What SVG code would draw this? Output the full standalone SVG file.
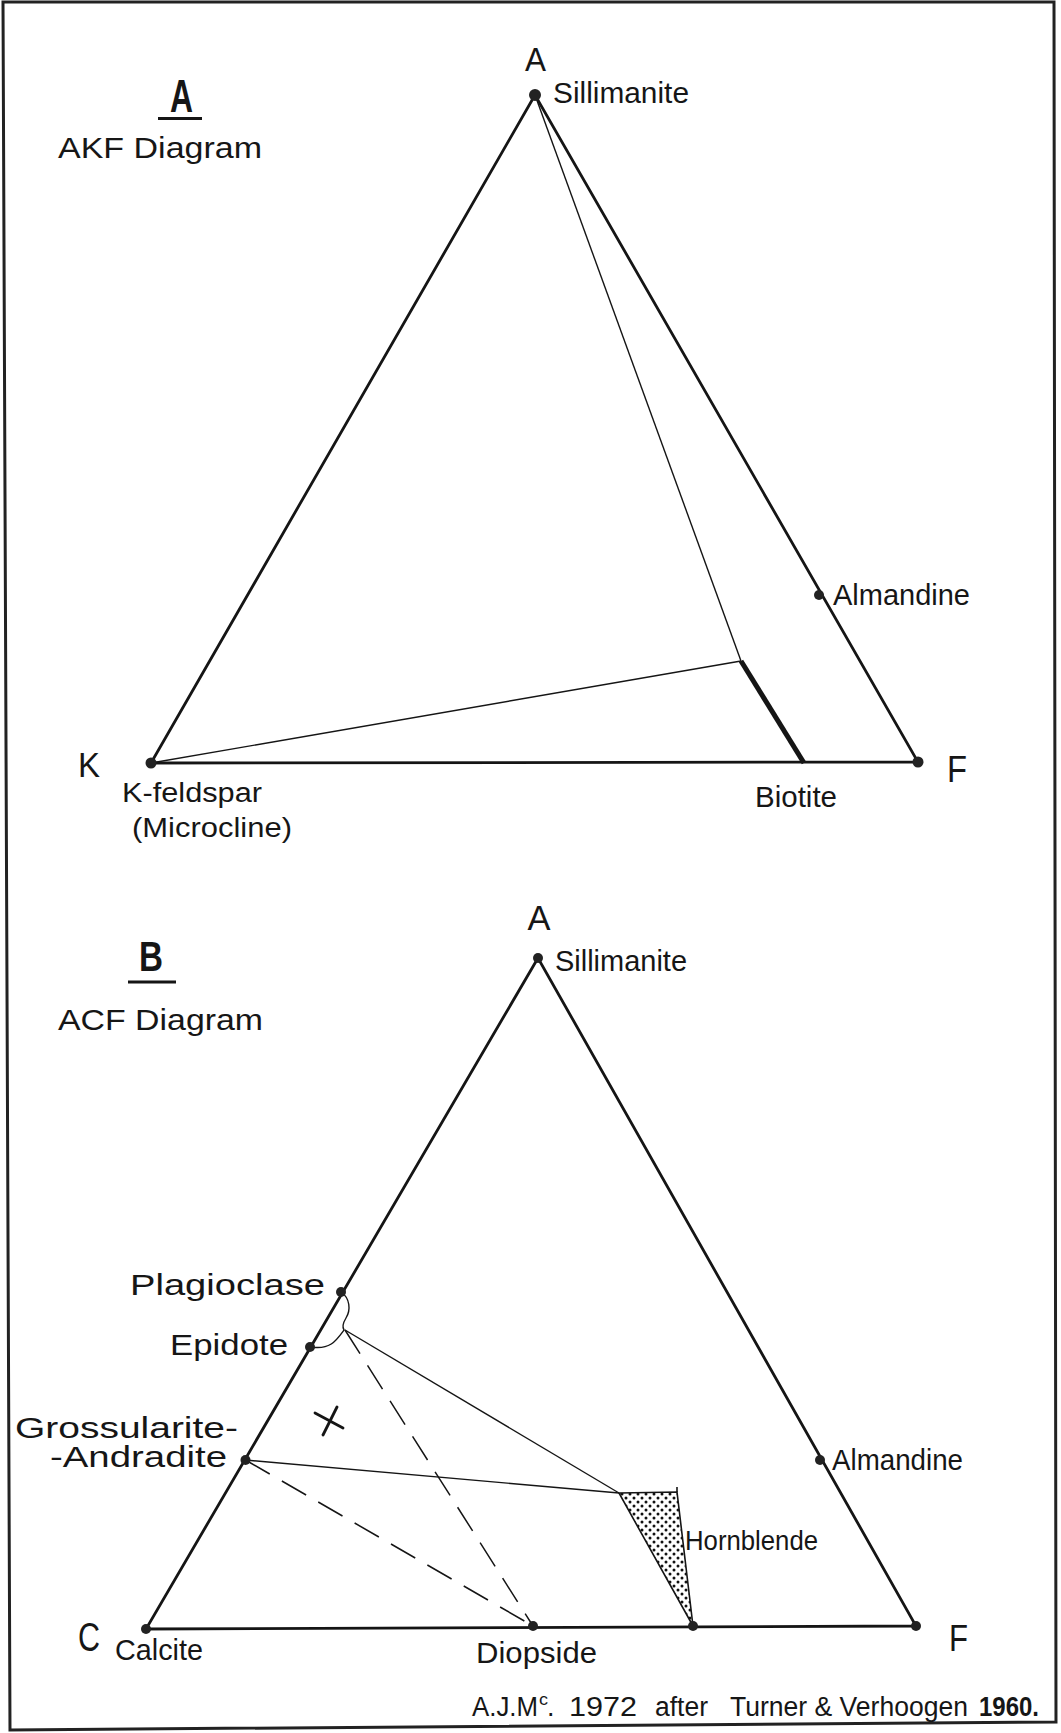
<svg xmlns="http://www.w3.org/2000/svg" width="1061" height="1733" viewBox="0 0 1061 1733">
<style>
text{font-family:"Liberation Sans","DejaVu Sans",Arial,sans-serif;fill:#161616}
.edge{stroke:#151515;stroke-width:2.8;fill:none;stroke-linecap:round}
.thin{stroke:#151515;stroke-width:1.4;fill:none}
.thick{stroke:#151515;stroke-width:5;fill:none;stroke-linecap:butt}
.dash{stroke:#151515;stroke-width:1.5;fill:none;stroke-dasharray:28 14}
.dot{fill:#222}
</style>
<defs>
<pattern id="stip" width="8" height="8" patternUnits="userSpaceOnUse">
<circle cx="2" cy="2" r="1.5" fill="#111"/>
<circle cx="6" cy="6" r="1.5" fill="#111"/>
</pattern>
</defs>
<rect width="1061" height="1733" fill="#fff"/>
<path d="M3,2 L1054,2 L1056,1722 L10,1730 Z" fill="none" stroke="#222" stroke-width="3"/>

<g id="diagramA-connectors">
<polygon class="edge" points="535,95 151,763 918,762"/>
<line class="thin" x1="535" y1="95" x2="741" y2="661"/>
<line class="thin" x1="151" y1="763" x2="741" y2="661"/>
<line class="thick" x1="741" y1="661" x2="804" y2="763"/>
</g>

<g id="titleA">
<text x="170" y="112" font-size="46" font-weight="bold" textLength="23" lengthAdjust="spacingAndGlyphs">A</text>
<line x1="158" y1="118.5" x2="202" y2="118.5" stroke="#151515" stroke-width="3"/>
<text x="58" y="158" font-size="30" textLength="204" lengthAdjust="spacingAndGlyphs">AKF Diagram</text>
</g>
<g id="A-sillimanite">
<circle class="dot" cx="535" cy="95" r="6"/>
<text x="525" y="71" font-size="34" textLength="21" lengthAdjust="spacingAndGlyphs">A</text>
<text x="553" y="103" font-size="29" textLength="136" lengthAdjust="spacingAndGlyphs">Sillimanite</text>
</g>
<g id="K-feldspar">
<circle class="dot" cx="151" cy="763" r="5.5"/>
<text x="78" y="777" font-size="35" textLength="22" lengthAdjust="spacingAndGlyphs">K</text>
<text x="122" y="802" font-size="27" textLength="140" lengthAdjust="spacingAndGlyphs">K-feldspar</text>
<text x="132" y="837" font-size="28" textLength="160" lengthAdjust="spacingAndGlyphs">(Microcline)</text>
</g>
<g id="F-top">
<circle class="dot" cx="918" cy="762" r="5.5"/>
<text x="947" y="782" font-size="37" textLength="20" lengthAdjust="spacingAndGlyphs">F</text>
</g>
<g id="almandine-top">
<circle class="dot" cx="819" cy="595" r="5"/>
<text x="833" y="605" font-size="30" textLength="137" lengthAdjust="spacingAndGlyphs">Almandine</text>
</g>
<g id="biotite">
<text x="755" y="807" font-size="30" textLength="82" lengthAdjust="spacingAndGlyphs">Biotite</text>
</g>

<g id="diagramB-connectors">
<polygon class="edge" points="538,958 146,1629 916,1626"/>
<polygon points="619,1493 677,1492 693,1626" fill="url(#stip)" stroke="#151515" stroke-width="1.6"/>
<line x1="677" y1="1492" x2="677" y2="1487" stroke="#151515" stroke-width="1.6"/>
<line class="thin" x1="245.5" y1="1460" x2="619" y2="1493"/>
<line class="thin" x1="345" y1="1330" x2="619" y2="1493"/>
<line class="dash" x1="345" y1="1330" x2="533" y2="1626"/>
<line class="dash" x1="245.5" y1="1460" x2="533" y2="1626"/>
<path class="thin" stroke-width="1.8" d="M341,1292 C350,1298 351,1310 346,1318 C343,1323 342,1327 344,1330 C336,1341 330,1350 311,1347"/>
<line class="edge" stroke-width="2.2" x1="315" y1="1413" x2="343" y2="1428"/>
<line class="edge" stroke-width="2.2" x1="337" y1="1407" x2="323" y2="1435"/>
</g>

<g id="titleB">
<text x="139" y="971" font-size="42" font-weight="bold" textLength="24" lengthAdjust="spacingAndGlyphs">B</text>
<line x1="128" y1="982" x2="176" y2="982" stroke="#151515" stroke-width="3"/>
<text x="58" y="1030" font-size="30" textLength="205" lengthAdjust="spacingAndGlyphs">ACF Diagram</text>
</g>
<g id="B-sillimanite">
<circle class="dot" cx="538" cy="958" r="5"/>
<text x="527.5" y="930" font-size="35" textLength="23" lengthAdjust="spacingAndGlyphs">A</text>
<text x="555" y="971" font-size="29" textLength="132" lengthAdjust="spacingAndGlyphs">Sillimanite</text>
</g>
<g id="plagioclase">
<circle class="dot" cx="341" cy="1292" r="5"/>
<text x="130" y="1295" font-size="29" textLength="195" lengthAdjust="spacingAndGlyphs">Plagioclase</text>
</g>
<g id="epidote">
<circle class="dot" cx="310" cy="1347" r="5"/>
<text x="170" y="1355" font-size="29" textLength="118" lengthAdjust="spacingAndGlyphs">Epidote</text>
</g>
<g id="grossularite">
<circle class="dot" cx="245.5" cy="1460" r="5"/>
<text x="15" y="1438" font-size="29" textLength="223" lengthAdjust="spacingAndGlyphs">Grossularite-</text>
<text x="50" y="1467" font-size="29" textLength="177" lengthAdjust="spacingAndGlyphs">-Andradite</text>
</g>
<g id="almandine-B">
<circle class="dot" cx="820" cy="1460" r="5"/>
<text x="832" y="1470" font-size="30" textLength="131" lengthAdjust="spacingAndGlyphs">Almandine</text>
</g>
<g id="hornblende">
<circle class="dot" cx="693" cy="1626" r="5"/>
<text x="685" y="1550" font-size="27" textLength="133" lengthAdjust="spacingAndGlyphs">Hornblende</text>
</g>
<g id="calcite">
<circle class="dot" cx="146" cy="1629" r="5"/>
<text x="78" y="1651" font-size="40" textLength="22" lengthAdjust="spacingAndGlyphs">C</text>
<text x="115" y="1660" font-size="29" textLength="88" lengthAdjust="spacingAndGlyphs">Calcite</text>
</g>
<g id="diopside">
<circle class="dot" cx="533" cy="1626" r="5"/>
<text x="476" y="1663" font-size="30" textLength="121" lengthAdjust="spacingAndGlyphs">Diopside</text>
</g>
<g id="F-B">
<circle class="dot" cx="916" cy="1626" r="5"/>
<text x="949" y="1651" font-size="37" textLength="19" lengthAdjust="spacingAndGlyphs">F</text>
</g>

<g id="credit">
<text x="472" y="1716" font-size="27" textLength="66" lengthAdjust="spacingAndGlyphs">A.J.M</text>
<text x="539" y="1705" font-size="16" textLength="9" lengthAdjust="spacingAndGlyphs">c</text>
<text x="547" y="1716" font-size="27">.</text>
<text x="569" y="1716" font-size="27" textLength="68" lengthAdjust="spacingAndGlyphs">1972</text>
<text x="655" y="1716" font-size="27" textLength="53" lengthAdjust="spacingAndGlyphs">after</text>
<text x="730" y="1716" font-size="27" textLength="238" lengthAdjust="spacingAndGlyphs">Turner &amp; Verhoogen</text>
<text x="979" y="1716" font-size="27" font-weight="bold" textLength="60" lengthAdjust="spacingAndGlyphs">1960.</text>
</g>
</svg>
